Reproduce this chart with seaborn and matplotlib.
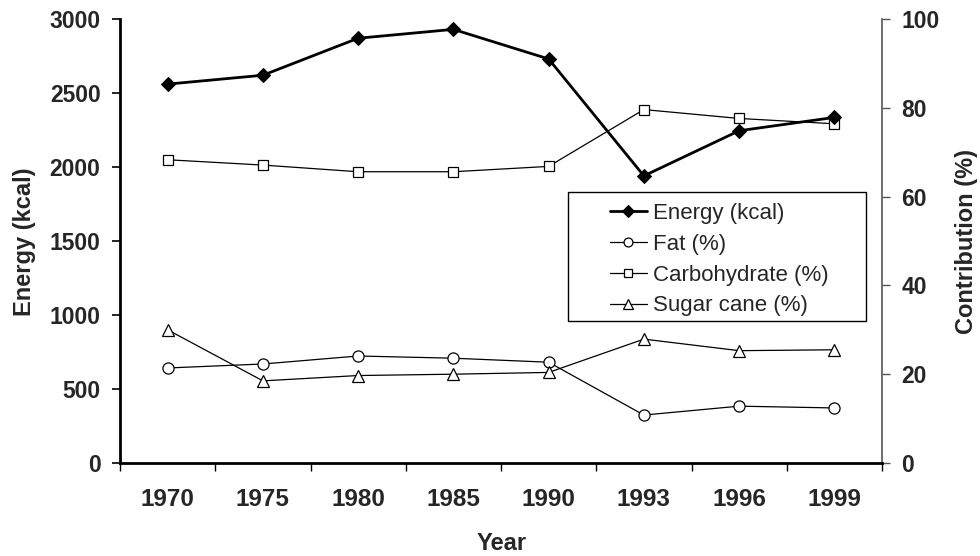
import matplotlib
matplotlib.use("Agg")
import matplotlib.pyplot as plt
import seaborn as sns
import pandas as pd
from matplotlib.ticker import FixedLocator
from matplotlib.patches import Rectangle

years = ["1970", "1975", "1980", "1985", "1990", "1993", "1996", "1999"]
energy = [2560, 2620, 2870, 2930, 2730, 1940, 2245, 2335]
fat = [21.4, 22.3, 24.1, 23.6, 22.7, 10.8, 12.8, 12.4]
carbohydrate = [68.3, 67.1, 65.6, 65.6, 66.8, 79.6, 77.6, 76.4]
sugar_cane = [30.0, 18.5, 19.7, 20.0, 20.4, 27.9, 25.3, 25.5]

sns.set_theme(style="white")
plt.rcParams['font.family'] = ['Liberation Sans', 'DejaVu Sans']

df = pd.DataFrame({"Year": years, "Energy": energy, "Fat": fat,
                   "Carb": carbohydrate, "Sugar": sugar_cane})
df["pos"] = range(len(years))

W, H = 980, 556
fig = plt.figure(figsize=(9.8, 5.56), dpi=100)
ax = fig.add_axes([120 / W, 1 - 463 / H, (882 - 120) / W, (463 - 19) / H])
ax2 = ax.twinx()

common = dict(color="black", linewidth=0.9, markersize=8,
              markerfacecolor="white", markeredgecolor="black",
              markeredgewidth=0.9, legend=False)
sns.lineplot(data=df, x="pos", y="Fat", ax=ax2, marker="o", label="Fat (%)", **common)
sns.lineplot(data=df, x="pos", y="Carb", ax=ax2, marker="s", label="Carbohydrate (%)",
             **{**common, "markersize": 6.5})
sns.lineplot(data=df, x="pos", y="Sugar", ax=ax2, marker="^", label="Sugar cane (%)",
             **{**common, "markersize": 8.5})
sns.lineplot(data=df, x="pos", y="Energy", ax=ax, color="black", linewidth=2,
             marker="D", markersize=7.5, markerfacecolor="black",
             markeredgecolor="black", label="Energy (kcal)", legend=False)

ax.set_xlim(-0.5, len(years) - 0.5)
ax.set_ylim(0, 3000)
ax2.set_ylim(0, 100)
ax.set_yticks(range(0, 3001, 500))
ax2.set_yticks(range(0, 101, 20))
ax.set_xticks(range(len(years)))
ax.set_xticklabels(years)
ax.xaxis.set_minor_locator(FixedLocator([i - 0.5 for i in range(len(years) + 1)]))
ax.tick_params(axis="x", which="major", length=0, pad=18, labelsize=17.5)
ax.tick_params(axis="x", which="minor", length=6, width=1, direction="out", bottom=True, color="black")
ax.tick_params(axis="y", length=6, width=1.2, direction="out", left=True, labelsize=16.5,
               color="black", pad=8)
ax2.tick_params(axis="y", length=6, width=1, direction="out", right=True, labelsize=16.5,
                color="#555555", pad=8)
for lab in ax.get_xticklabels() + ax.get_yticklabels() + ax2.get_yticklabels():
    lab.set_fontweight("bold")

for a in (ax, ax2):
    a.spines["top"].set_visible(False)
ax.spines["right"].set_visible(False)
ax2.spines["left"].set_visible(False)
ax2.spines["bottom"].set_visible(False)
ax.spines["left"].set_linewidth(2)
ax.spines["left"].set_color("black")
ax.spines["bottom"].set_linewidth(2)
ax.spines["bottom"].set_color("black")
ax2.spines["right"].set_linewidth(1.2)
ax2.spines["right"].set_color("#555555")

ax.set_xlabel("")
ax.set_ylabel("")
ax2.set_ylabel("")
fig.text(502 / W, 1 - 544 / H, "Year", fontsize=17, fontweight="bold", ha="center", va="center")
fig.text(25 / W, 1 - 242 / H, "Energy (kcal)", fontsize=17, fontweight="bold",
         ha="center", va="center", rotation=90)
fig.text(966 / W, 1 - 241 / H, "Contribution (%)", fontsize=17, fontweight="bold",
         ha="center", va="center", rotation=90)

# legend box (Excel-style frame)
x0, x1 = (568 - 120) / 762, (866 - 120) / 762
y0, y1 = (463 - 321) / 444, (463 - 192) / 444
box = Rectangle((x0, y0), x1 - x0, y1 - y0, transform=ax.transAxes,
                facecolor="white", edgecolor="black", linewidth=1, zorder=4, clip_on=False)
ax.add_patch(box)

h1, l1 = ax.get_legend_handles_labels()
h2, l2 = ax2.get_legend_handles_labels()
leg = ax.legend(h1 + h2, l1 + l2, loc="upper left",
                bbox_to_anchor=((610 - 120) / 762, (463 - 203) / 444),
                fontsize=16, frameon=False, markerscale=0.8,
                handlelength=1.65, handletextpad=0.3, borderpad=0, labelspacing=0.44,
                borderaxespad=0)
leg.set_zorder(6)
ax.set_zorder(ax2.get_zorder() + 1)
ax.patch.set_visible(False)

fig.savefig("out.png", dpi=100)
